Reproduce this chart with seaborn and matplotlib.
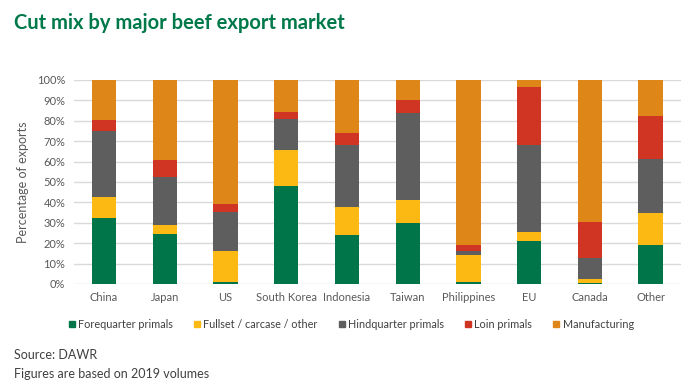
import numpy as np
import pandas as pd
import matplotlib
matplotlib.use("Agg")
import matplotlib.pyplot as plt
from matplotlib.lines import Line2D
import seaborn as sns

markets = ["China", "Japan", "US", "South Korea", "Indonesia", "Taiwan",
           "Philippines", "EU", "Canada", "Other"]
forequarter = [32.2, 24.7, 1.0, 48.2, 24.2, 29.7, 1.0, 20.9, 0.3, 19.1]
fullset = [10.4, 4.4, 15.2, 17.3, 13.5, 11.3, 13.2, 4.8, 2.2, 15.7]
hindquarter = [32.4, 23.2, 18.9, 15.4, 30.3, 42.7, 2.0, 42.6, 10.4, 26.5]
loin = [5.4, 8.6, 4.3, 3.4, 6.2, 6.5, 3.1, 28.4, 17.7, 21.2]
manufacturing = [19.6, 39.1, 60.6, 15.7, 25.8, 9.8, 80.7, 3.3, 69.4, 17.5]

series_names = ["Forequarter primals", "Fullset / carcase / other",
                "Hindquarter primals", "Loin primals", "Manufacturing"]
colors = ["#00754A", "#FDB913", "#5E5E5E", "#D03524", "#DF8619"]

sns.set_theme(style="white")
plt.rcParams["font.family"] = ["Lato", "DejaVu Sans"]

df = pd.DataFrame({"market": markets, "f": forequarter, "fs": fullset,
                   "h": hindquarter, "l": loin, "m": manufacturing})
vals = df[["f", "fs", "h", "l", "m"]].to_numpy()
cum = np.cumsum(vals, axis=1)

fig = plt.figure(figsize=(7, 3.9), dpi=100)
ax = fig.add_axes([73.6 / 700, 1 - 284 / 390, (681 - 73.6) / 700, 204 / 390])

for i in range(4, -1, -1):
    sns.barplot(x=df["market"], y=cum[:, i], color=colors[i], ax=ax,
                width=0.4, saturation=1, linewidth=0, zorder=3)

ax.set_ylim(0, 100)
ax.set_xlim(-0.5, len(markets) - 0.5)
ax.set_yticks(np.arange(0, 101, 10))
ax.set_yticklabels([f"{t}%" for t in range(0, 101, 10)])
ax.yaxis.grid(True, color="#D9D9D9", linewidth=1, zorder=0)
ax.set_axisbelow(True)
for s in ax.spines.values():
    s.set_visible(False)
ax.tick_params(axis="both", colors="#595959", labelsize=8, length=0, pad=6)
ax.set_xlabel("")
ax.set_ylabel("Percentage of exports", fontsize=9, color="#595959", labelpad=6)

fig.text(14 / 700, 1 - 23 / 390, "Cut mix by major beef export market",
         fontsize=14.5, fontweight="bold", color="#00794A", va="center", ha="left")

handles = [Line2D([0], [0], marker="s", linestyle="", markersize=4.5,
                  markerfacecolor=c, markeredgecolor=c) for c in colors]
fig.legend(handles, series_names, loc="center", bbox_to_anchor=(350 / 700, 1 - 324 / 390),
           ncol=5, frameon=False, fontsize=7.8, handletextpad=0.1, columnspacing=1.7,
           handlelength=1.0, labelcolor="#404040")

fig.text(14 / 700, 1 - 355 / 390, "Source: DAWR", fontsize=9, color="#404040",
         va="center", ha="left")
fig.text(14 / 700, 1 - 374 / 390, "Figures are based on 2019 volumes", fontsize=9,
         color="#404040", va="center", ha="left")

fig.savefig("out.png", dpi=100)
